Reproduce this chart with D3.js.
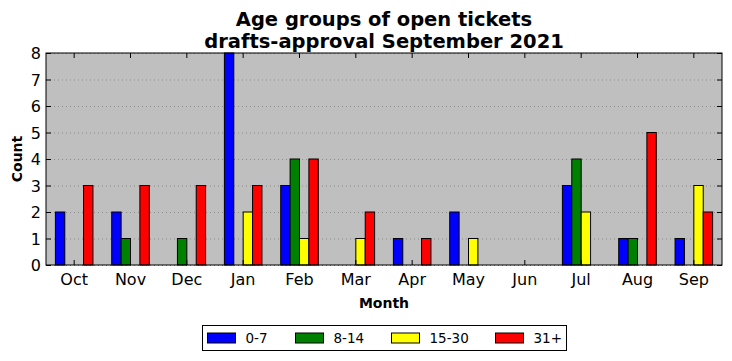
<!DOCTYPE html>
<html>
<head>
<meta charset="utf-8">
<script src="https://cdn.jsdelivr.net/npm/d3@7"></script>
<style>
  body { margin: 0; background: #fff; }
  svg { display: block; font-family: "DejaVu Sans", sans-serif; }
</style>
</head>
<body>
<div id="chart"></div>
<script>
// data
const months = ['Oct', 'Nov', 'Dec', 'Jan', 'Feb', 'Mar', 'Apr', 'May', 'Jun', 'Jul', 'Aug', 'Sep'];
const seriesNames = ['0-7', '8-14', '15-30', '31+'];
const seriesColors = ['#0000ff', '#008000', '#ffff00', '#ff0000'];
const age0to7 = [2, 2, 0, 8, 3, 0, 1, 2, 0, 3, 1, 1];
const age8to14 = [0, 1, 1, 0, 4, 0, 0, 0, 0, 4, 1, 0];
const age15to30 = [0, 0, 0, 2, 1, 1, 0, 1, 0, 2, 0, 3];
const age31plus = [3, 3, 3, 3, 4, 2, 1, 0, 0, 0, 5, 2];
const yTicks = [0, 1, 2, 3, 4, 5, 6, 7, 8];

const series = [age0to7, age8to14, age15to30, age31plus];

const W = 732, H = 361;
const m = { left: 46, right: 10, top: 53, bottom: 96 };
const iw = W - m.left - m.right, ih = H - m.top - m.bottom;

const svg = d3.select('#chart').append('svg')
  .attr('width', W).attr('height', H);

const x = d3.scaleBand().domain(months).range([0, iw]).padding(0);
const y = d3.scaleLinear().domain([0, 8]).range([ih, 0]);
const bw = x.bandwidth() / 6;

const g = svg.append('g').attr('transform', `translate(${m.left},${m.top})`);

g.append('rect').attr('width', iw).attr('height', ih).attr('fill', '#bfbfbf');

// dotted grid
g.selectAll('.grid')
  .data(yTicks)
  .enter().append('line')
  .attr('x1', 0).attr('x2', iw)
  .attr('y1', d => y(d) + 0.5).attr('y2', d => y(d) + 0.5)
  .attr('stroke', '#8c8c8c').attr('stroke-width', 1)
  .attr('stroke-dasharray', '1,3');

// bars
series.forEach((vals, si) => {
  g.selectAll('.bar' + si)
    .data(vals.map((v, i) => ({ m: months[i], v })))
    .enter().append('rect')
    .attr('x', d => x(d.m) + x.bandwidth() / 2 - 2 * bw + si * bw)
    .attr('y', d => y(d.v))
    .attr('width', bw)
    .attr('height', d => ih - y(d.v))
    .attr('fill', seriesColors[si])
    .attr('stroke', '#000').attr('stroke-width', 1);
});

// axes (ticks pointing inward, classic style)
const xAxis = g.append('g').attr('transform', `translate(0,${ih})`)
  .call(d3.axisBottom(x).tickSize(-5).tickPadding(9));
const xTop = g.append('g')
  .call(d3.axisTop(x).tickSize(-5).tickFormat(''));
const yAxis = g.append('g')
  .call(d3.axisLeft(y).tickValues(yTicks).tickSize(-5).tickPadding(5).tickFormat(d3.format('d')));
const yRight = g.append('g').attr('transform', `translate(${iw},0)`)
  .call(d3.axisRight(y).tickValues(yTicks).tickSize(-5).tickFormat(''));

[xAxis, xTop, yAxis, yRight].forEach(a => {
  a.select('.domain').remove();
  a.selectAll('line').attr('stroke', '#000');
  a.selectAll('text').attr('font-size', 16).attr('fill', '#000')
    .attr('font-family', '"DejaVu Sans", sans-serif');
});
yAxis.selectAll('text').attr('dy', '0.36em');

g.append('rect').attr('width', iw).attr('height', ih)
  .attr('fill', 'none').attr('stroke', '#000').attr('stroke-width', 1);

// title
const title = svg.append('text')
  .attr('x', m.left + iw / 2).attr('text-anchor', 'middle')
  .attr('font-size', 19.5).attr('font-weight', 'bold');
title.append('tspan').attr('x', m.left + iw / 2).attr('y', 26).text('Age groups of open tickets');
title.append('tspan').attr('x', m.left + iw / 2).attr('y', 48).text('drafts-approval September 2021');

// axis labels
svg.append('text')
  .attr('x', m.left + iw / 2).attr('y', 308)
  .attr('text-anchor', 'middle').attr('font-size', 14).attr('font-weight', 'bold')
  .text('Month');
svg.append('text')
  .attr('transform', `translate(22,${m.top + ih / 2}) rotate(-90)`)
  .attr('text-anchor', 'middle').attr('font-size', 14).attr('font-weight', 'bold')
  .text('Count');

// legend
const legend = svg.append('g').attr('transform', 'translate(202.5,325.5)');
legend.append('rect').attr('width', 364).attr('height', 25)
  .attr('fill', '#fff').attr('stroke', '#000');
const legX = [5, 93, 189, 293];
seriesNames.forEach((name, i) => {
  legend.append('rect')
    .attr('x', legX[i]).attr('y', 7.5).attr('width', 28).attr('height', 10)
    .attr('fill', seriesColors[i]).attr('stroke', '#000');
  legend.append('text')
    .attr('x', legX[i] + 38).attr('y', 17.5)
    .attr('font-size', 13.5).text(name);
});
</script>
</body>
</html>
